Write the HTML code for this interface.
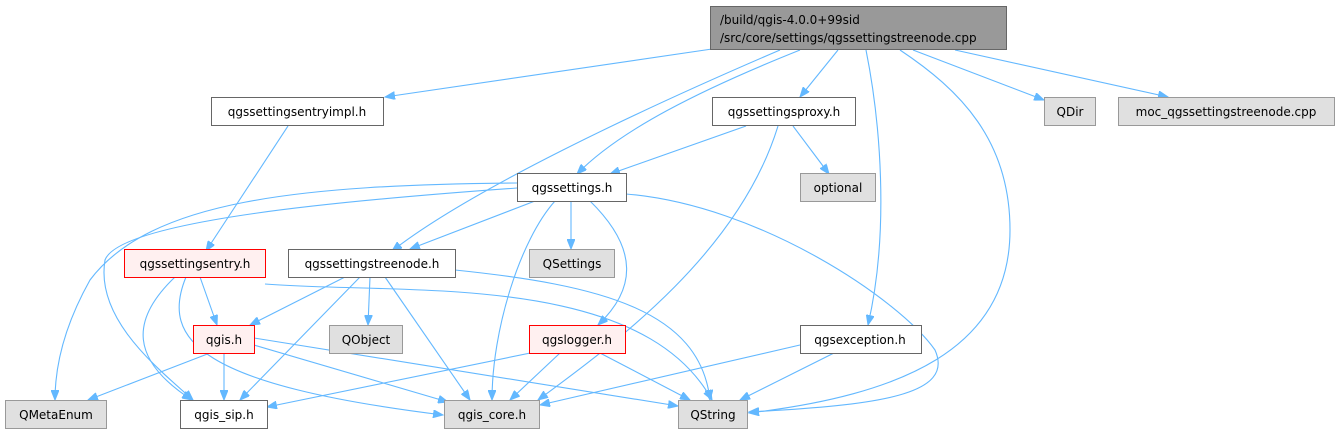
<!DOCTYPE html>
<html><head><meta charset="utf-8"><style>
html,body{margin:0;padding:0;background:#fff;width:1343px;height:434px;overflow:hidden}
svg{display:block}
text{font-family:"DejaVu Sans","Liberation Sans",sans-serif;font-size:12px;fill:#000}
.e{fill:none;stroke:#63b8ff;stroke-width:1.1}
.w{fill:#fff;stroke:#666}
.g{fill:#e0e0e0;stroke:#999}
.r{fill:#fff0f0;stroke:#f00}
</style></head><body>
<svg width="1343" height="434" viewBox="0 0 1343 434">
<defs><marker id="a" markerWidth="11" markerHeight="8" refX="10" refY="4" orient="auto" markerUnits="userSpaceOnUse"><path d="M0,0 L10,4 L0,8 z" fill="#63b8ff" stroke="#63b8ff"/></marker></defs>
<g marker-end="url(#a)">
<path class="e" d="M712,49 L385,97"/>
<path class="e" d="M780,50 C640,110 470,190 392,251"/>
<path class="e" d="M800,50 C700,90 620,130 577,174"/>
<path class="e" d="M838,50 L800,97"/>
<path class="e" d="M866,50 C880,120 890,230 868,325"/>
<path class="e" d="M900,50 C960,90 1010,140 1010,230 C1010,350 900,395 749,413"/>
<path class="e" d="M913,50 L1044,100"/>
<path class="e" d="M955,50 L1168,97"/>
<path class="e" d="M288,126 L206,251"/>
<path class="e" d="M746,126 L610,174"/>
<path class="e" d="M793,126 L829,174"/>
<path class="e" d="M778,126 C740,250 620,340 538,400"/>
<path class="e" d="M517,183 C300,185 150,200 90,280 C62,330 55,370 55,400"/>
<path class="e" d="M517,188 C350,200 120,220 105,260 C95,320 160,370 193,400"/>
<path class="e" d="M535,201 L410,249"/>
<path class="e" d="M555,201 C520,240 492,330 492,400"/>
<path class="e" d="M571,201 L571,249"/>
<path class="e" d="M590,201 C640,250 635,290 598,325"/>
<path class="e" d="M626,194 C760,205 900,300 935,350 C955,395 880,405 749,412"/>
<path class="e" d="M175,277 C130,320 130,360 192,400"/>
<path class="e" d="M186,277 C160,340 200,385 443,415"/>
<path class="e" d="M200,277 L217,325"/>
<path class="e" d="M265,284 C400,295 640,270 712,400"/>
<path class="e" d="M345,277 L250,325"/>
<path class="e" d="M360,277 L240,400"/>
<path class="e" d="M370,277 L368,325"/>
<path class="e" d="M385,277 L470,400"/>
<path class="e" d="M455,270 C600,285 700,310 710,400"/>
<path class="e" d="M210,353 L88,400"/>
<path class="e" d="M224,353 L224,400"/>
<path class="e" d="M254,345 L448,402"/>
<path class="e" d="M254,338 L678,406"/>
<path class="e" d="M545,350 L267,407"/>
<path class="e" d="M560,353 L510,400"/>
<path class="e" d="M600,353 L690,400"/>
<path class="e" d="M800,345 L540,405"/>
<path class="e" d="M834,353 L740,400"/>
</g>
<rect x="710.5" y="6.5" width="296" height="43" fill="#999" stroke="#666"/>
<text x="720" y="24">/build/qgis-4.0.0+99sid</text>
<text x="720" y="42">/src/core/settings/qgssettingstreenode.cpp</text>
<rect class="w" x="211.5" y="97.5" width="172" height="28"/><text x="297" y="116" text-anchor="middle">qgssettingsentryimpl.h</text>
<rect class="w" x="712.5" y="97.5" width="143" height="28"/><text x="784" y="116" text-anchor="middle">qgssettingsproxy.h</text>
<rect class="g" x="1044.5" y="97.5" width="51" height="28"/><text x="1070" y="116" text-anchor="middle">QDir</text>
<rect class="g" x="1118.5" y="97.5" width="216" height="28"/><text x="1226" y="116" text-anchor="middle">moc_qgssettingstreenode.cpp</text>
<rect class="w" x="517.5" y="173.5" width="109" height="28"/><text x="572" y="192" text-anchor="middle">qgssettings.h</text>
<rect class="g" x="800.5" y="173.5" width="75" height="28"/><text x="838" y="192" text-anchor="middle">optional</text>
<rect class="r" x="124.5" y="249.5" width="141" height="28"/><text x="195" y="268" text-anchor="middle">qgssettingsentry.h</text>
<rect class="w" x="288.5" y="249.5" width="167" height="28"/><text x="372" y="268" text-anchor="middle">qgssettingstreenode.h</text>
<rect class="g" x="529.5" y="249.5" width="85" height="28"/><text x="572" y="268" text-anchor="middle">QSettings</text>
<rect class="r" x="193.5" y="325.5" width="61" height="28"/><text x="224" y="344" text-anchor="middle">qgis.h</text>
<rect class="g" x="329.5" y="325.5" width="73" height="28"/><text x="366" y="344" text-anchor="middle">QObject</text>
<rect class="r" x="529.5" y="325.5" width="96" height="28"/><text x="577" y="344" text-anchor="middle">qgslogger.h</text>
<rect class="w" x="800.5" y="325.5" width="121" height="28"/><text x="860" y="344" text-anchor="middle">qgsexception.h</text>
<rect class="g" x="5.5" y="400.5" width="101" height="28"/><text x="56" y="419" text-anchor="middle">QMetaEnum</text>
<rect class="w" x="180.5" y="400.5" width="87" height="28"/><text x="224" y="419" text-anchor="middle">qgis_sip.h</text>
<rect class="g" x="444.5" y="400.5" width="95" height="28"/><text x="492" y="419" text-anchor="middle">qgis_core.h</text>
<rect class="g" x="678.5" y="400.5" width="69" height="28"/><text x="713" y="419" text-anchor="middle">QString</text>
</svg>
</body></html>
